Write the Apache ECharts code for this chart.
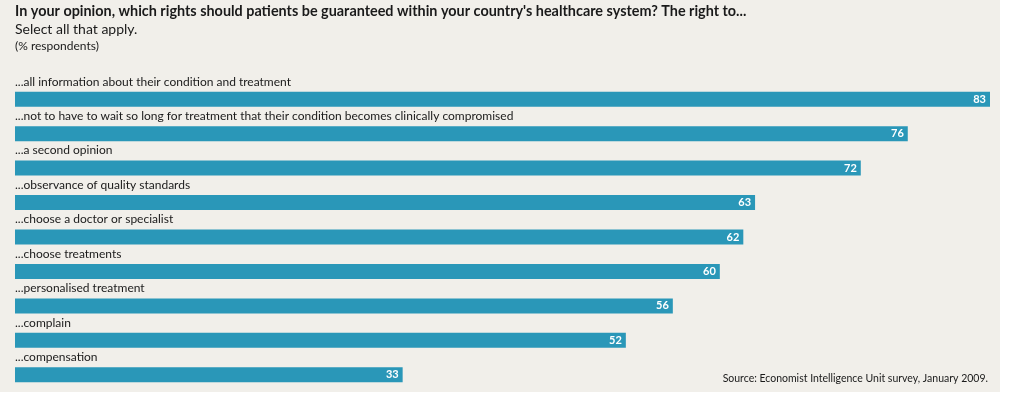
<!DOCTYPE html>
<html>
<head>
<meta charset="utf-8">
<script src="https://cdn.jsdelivr.net/npm/echarts@6/dist/echarts.min.js"></script>
<style>
  html, body { margin: 0; padding: 0; background: #fff; }
  #chart { width: 1013px; height: 398px; }
</style>
</head>
<body>
<div id="chart"></div>
<script>
var categories = [
    '...all information about their condition and treatment',
    '...not to have to wait so long for treatment that their condition becomes clinically compromised',
    '...a second opinion',
    '...observance of quality standards',
    '...choose a doctor or specialist',
    '...choose treatments',
    '...personalised treatment',
    '...complain',
    '...compensation'
];
var values = [83, 76, 72, 63, 62, 60, 56, 52, 33];

var fontFam = 'Lato, "Open Sans", sans-serif';
var myChart = echarts.init(document.getElementById('chart'));

var option = {
    backgroundColor: '#ffffff',
    animation: false,
    graphic: [
        { type: 'rect', z: -10, shape: { x: 0, y: 0, width: 1000, height: 392 }, style: { fill: '#f1efea' } },
        { type: 'text', left: 15, top: 4, style: { text: "In your opinion, which rights should patients be guaranteed within your country's healthcare system? The right to...", font: 'bold 14.4px ' + fontFam, fill: '#1a1a1a' } },
        { type: 'text', left: 15, top: 22, style: { text: 'Select all that apply.', font: '14px ' + fontFam, fill: '#1a1a1a' } },
        { type: 'text', left: 15, top: 40, style: { text: '(% respondents)', font: '12px ' + fontFam, fill: '#1a1a1a' } },
        { type: 'text', right: 25, top: 373, style: { text: 'Source: Economist Intelligence Unit survey, January 2009.', font: '10.5px ' + fontFam, fill: '#1a1a1a' } }
    ],
    grid: { left: 15, top: 82, width: 975, height: 310 },
    xAxis: {
        type: 'value', min: 0, max: 83, show: false
    },
    yAxis: {
        type: 'category',
        inverse: true,
        data: categories,
        axisLine: { show: false },
        axisTick: { show: false },
        axisLabel: {
            inside: true,
            align: 'left',
            verticalAlign: 'bottom',
            margin: 0,
            formatter: function (v) { return '{t|' + v + '}'; },
            rich: {
                t: {
                    color: '#1a1a1a',
                    fontSize: 12,
                    fontFamily: fontFam,
                    lineHeight: 35
                }
            }
        },
        z: 5
    },
    series: [{
        type: 'bar',
        data: values,
        barWidth: 15,
        itemStyle: { color: '#2a97b8' },
        label: {
            show: true,
            position: 'insideRight',
            distance: 4,
            color: '#ffffff',
            fontWeight: 'bold',
            fontSize: 11,
            fontFamily: fontFam
        }
    }]
};
myChart.setOption(option);
</script>
</body>
</html>
